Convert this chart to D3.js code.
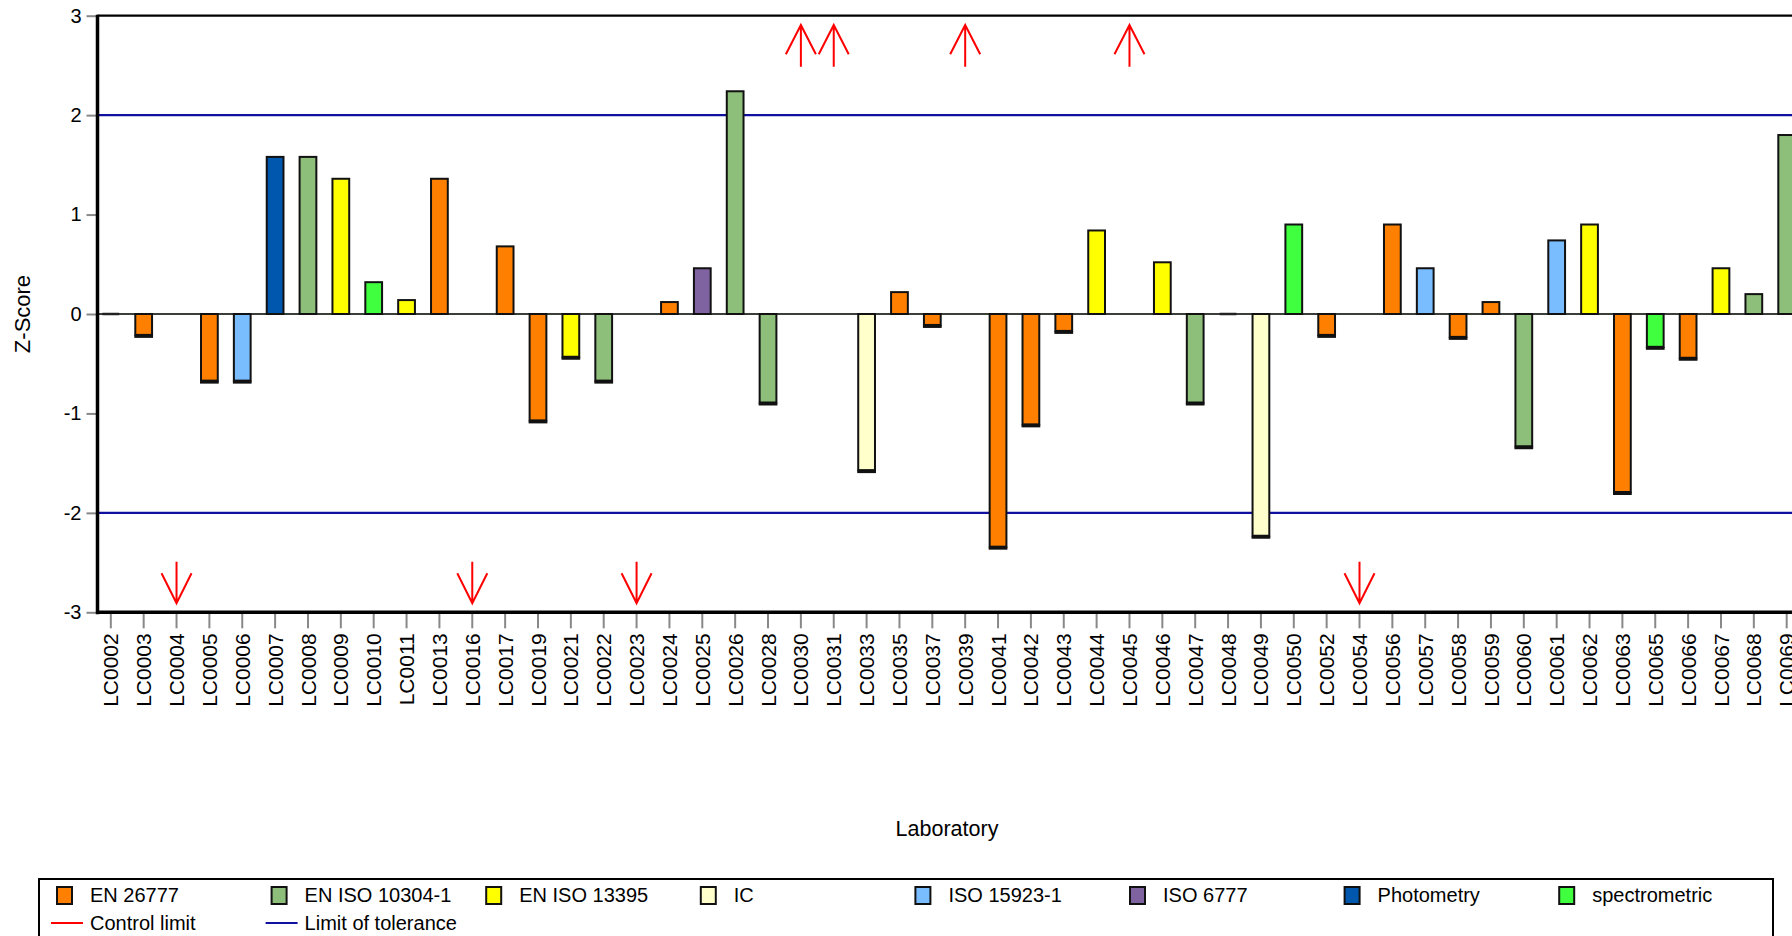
<!DOCTYPE html>
<html><head><meta charset="utf-8">
<script src="https://cdn.jsdelivr.net/npm/d3@7"></script>
<style>
html,body{margin:0;padding:0;background:#fff;overflow:hidden;}
text{font-family:Arial,"Liberation Sans",sans-serif;fill:#000;}
</style></head><body>
<svg id="chart" width="1792" height="936"></svg>
<script>
const labs = ["LC0002","LC0003","LC0004","LC0005","LC0006","LC0007","LC0008","LC0009","LC0010","LC0011",
"LC0013","LC0016","LC0017","LC0019","LC0021","LC0022","LC0023","LC0024","LC0025","LC0026",
"LC0028","LC0030","LC0031","LC0033","LC0035","LC0037","LC0039","LC0041","LC0042","LC0043",
"LC0044","LC0045","LC0046","LC0047","LC0048","LC0049","LC0050","LC0052","LC0054","LC0056",
"LC0057","LC0058","LC0059","LC0060","LC0061","LC0062","LC0063","LC0065","LC0066","LC0067",
"LC0068","LC0069"];
const methods = [null,"EN 26777",null,"EN 26777","ISO 15923-1","Photometry","EN ISO 10304-1","EN ISO 13395","spectrometric","EN ISO 13395",
"EN 26777",null,"EN 26777","EN 26777","EN ISO 13395","EN ISO 10304-1",null,"EN 26777","ISO 6777","EN ISO 10304-1",
"EN ISO 10304-1",null,null,"IC","EN 26777","EN 26777",null,"EN 26777","EN 26777","EN 26777",
"EN ISO 13395",null,"EN ISO 13395","EN ISO 10304-1",null,"IC","spectrometric","EN 26777",null,"EN 26777",
"ISO 15923-1","EN 26777","EN 26777","EN ISO 10304-1","ISO 15923-1","EN ISO 13395","EN 26777","spectrometric","EN 26777","EN ISO 13395",
"EN ISO 10304-1","EN ISO 10304-1"];
const zScores = [0,-0.21,null,-0.67,-0.67,1.58,1.58,1.36,0.32,0.14,
1.36,null,0.68,-1.07,-0.43,-0.67,null,0.12,0.46,2.24,
-0.89,null,null,-1.57,0.22,-0.11,null,-2.34,-1.11,-0.17,
0.84,null,0.52,-0.89,0,-2.23,0.90,-0.21,null,0.90,
0.46,-0.23,0.12,-1.33,0.74,0.90,-1.79,-0.33,-0.44,0.46,
0.20,1.80];
const labsAbove = ["LC0030","LC0031","LC0039","LC0045"];
const labsBelow = ["LC0004","LC0016","LC0023","LC0054"];
const methodNames = ["EN 26777","EN ISO 10304-1","EN ISO 13395","IC","ISO 15923-1","ISO 6777","Photometry","spectrometric"];
const methodColors = ["#FF8000","#8DBF7A","#FFFF00","#FFFFCC","#7ABDFF","#7F62A0","#0057AE","#3FFF3F"];
const yTicks = [-3,-2,-1,0,1,2,3];
const toleranceLimits = [-2,2];

const svg = d3.select("#chart");
const L = 97.5, R = 1800, T = 15.7, B = 612.3;
const x = d3.scaleBand().domain(labs).range([L, R]).paddingInner(0.49).paddingOuter(0.15);
const y = d3.scaleLinear().domain([-3,3]).range([B, T]);
const color = d3.scaleOrdinal().domain(methodNames).range(methodColors);
const bw = x.bandwidth();

svg.selectAll("line.tol").data(toleranceLimits).join("line")
  .attr("x1", L).attr("x2", R).attr("y1", d=>y(d)).attr("y2", d=>y(d))
  .attr("stroke","#1010A0").attr("stroke-width",2.2);

svg.append("line").attr("x1",L).attr("x2",R).attr("y1",y(0)).attr("y2",y(0))
  .attr("stroke","#3a3f3a").attr("stroke-width",1.8);

const data = labs.map((l,i)=>({lab:l, m:methods[i], v:zScores[i]}));
const barData = data.filter(d=>d.v!==null && d.v!==0);
const g = svg.append("g");
g.selectAll("rect.bar").data(barData).join("rect")
  .attr("x", d=>x(d.lab)).attr("width", bw)
  .attr("y", d=>y(Math.max(0,d.v))).attr("height", d=>Math.abs(y(d.v)-y(0)))
  .attr("fill", d=>color(d.m)).attr("stroke","#111").attr("stroke-width",2);
g.selectAll("line.bot").data(barData.filter(d=>d.v<0)).join("line")
  .attr("x1", d=>x(d.lab)-1).attr("x2", d=>x(d.lab)+bw+1)
  .attr("y1", d=>y(d.v)+1.5).attr("y2", d=>y(d.v)+1.5)
  .attr("stroke","#111").attr("stroke-width",3);
g.selectAll("line.zero").data(data.filter(d=>d.v===0)).join("line")
  .attr("x1", d=>x(d.lab)).attr("x2", d=>x(d.lab)+bw)
  .attr("y1", y(0)).attr("y2", y(0)).attr("stroke","#222").attr("stroke-width",2.5);

function arrow(lab, up){
  const cx = x(lab)+bw/2;
  const tip = up ? 25 : 603.3, tail = up ? 66.7 : 561.7, head = up ? 54.3 : 573.3;
  svg.append("path").attr("d",`M${cx},${tail}L${cx},${tip}M${cx-15},${head}L${cx},${tip}L${cx+15},${head}`)
    .attr("fill","none").attr("stroke","#FF0000").attr("stroke-width",2);
}
labsAbove.forEach(l=>arrow(l,true));
labsBelow.forEach(l=>arrow(l,false));

svg.append("line").attr("x1",L).attr("x2",R).attr("y1",T).attr("y2",T).attr("stroke","#000").attr("stroke-width",2.2);

const yAxis = svg.append("g").attr("transform",`translate(${L},0)`)
  .call(d3.axisLeft(y).tickValues(yTicks).tickSize(11).tickPadding(5).tickFormat(d=>String(d)));
yAxis.select(".domain").remove();
yAxis.selectAll(".tick line").attr("stroke","#888").attr("stroke-width",2);
yAxis.selectAll(".tick text").attr("font-size",20).attr("font-family","Arial,'Liberation Sans',sans-serif").attr("fill","#000");

const xAxis = svg.append("g").attr("transform",`translate(0,${B})`)
  .call(d3.axisBottom(x).tickSize(16).tickPadding(0));
xAxis.select(".domain").remove();
xAxis.selectAll(".tick line").attr("stroke","#888").attr("stroke-width",2);
xAxis.selectAll(".tick text").attr("font-size",21).attr("font-family","Arial,'Liberation Sans',sans-serif").attr("fill","#000")
  .attr("transform","rotate(-90)").attr("text-anchor","end").attr("x",-21).attr("y",0).attr("dy","0.36em");

svg.append("line").attr("x1",L).attr("x2",L).attr("y1",T-1).attr("y2",B+2).attr("stroke","#000").attr("stroke-width",3.5);
svg.append("line").attr("x1",L-1.5).attr("x2",R).attr("y1",B).attr("y2",B).attr("stroke","#000").attr("stroke-width",3.5);

svg.append("text").attr("transform",`translate(30,314) rotate(-90)`).attr("text-anchor","middle")
  .attr("font-size",22).text("Z-Score");
svg.append("text").attr("x",947).attr("y",836).attr("text-anchor","middle").attr("font-size",21.5).text("Laboratory");

const lg = svg.append("g");
lg.append("rect").attr("x",39).attr("y",879).attr("width",1734).attr("height",100)
  .attr("fill","none").attr("stroke","#000").attr("stroke-width",2);
const step = 214.6;
const items = lg.selectAll("g.item").data(methodNames).join("g")
  .attr("transform",(d,i)=>`translate(${57+i*step},0)`);
items.append("rect").attr("x",0).attr("y",887).attr("width",15).attr("height",17)
  .attr("fill",d=>color(d)).attr("stroke","#111").attr("stroke-width",2);
items.append("text").attr("x",33).attr("y",902).attr("font-size",20).text(d=>d);
const lines = [{name:"Control limit",c:"#FF0000"},{name:"Limit of tolerance",c:"#1010A0"}];
const li = lg.selectAll("g.li").data(lines).join("g").attr("transform",(d,i)=>`translate(${51+i*step},0)`);
li.append("line").attr("x1",0).attr("x2",32).attr("y1",923).attr("y2",923).attr("stroke",d=>d.c).attr("stroke-width",2);
li.append("text").attr("x",39).attr("y",930).attr("font-size",20).text(d=>d.name);
</script>
</body></html>
